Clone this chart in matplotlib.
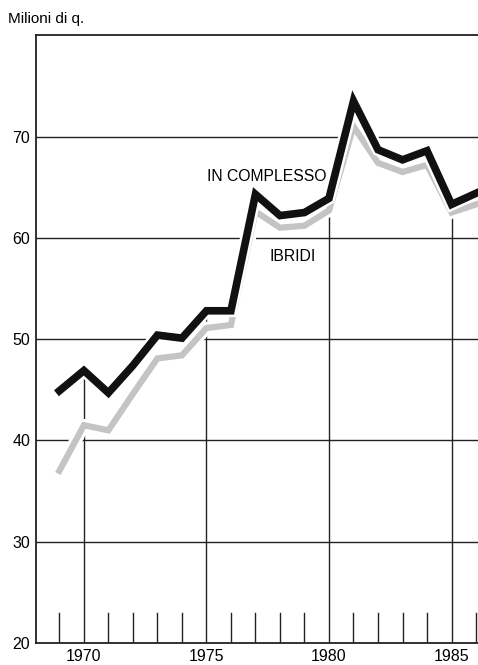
import numpy as np
import matplotlib
matplotlib.use("Agg")
import matplotlib.pyplot as plt
import matplotlib.patheffects as pe

plt.rcParams['font.family'] = ['Liberation Sans', 'DejaVu Sans']

anni = [1969, 1970, 1971, 1972, 1973, 1974, 1975, 1976, 1977,
        1978, 1979, 1980, 1981, 1982, 1983, 1984, 1985, 1986]
complesso = [44.9, 46.9, 44.7, 47.4, 50.4, 50.1, 52.8, 52.8, 64.3,
             62.2, 62.5, 63.9, 73.5, 68.7, 67.7, 68.6, 63.3, 64.4]
ibridi = [37.0, 41.5, 41.0, 44.6, 48.1, 48.4, 51.1, 51.4, 62.6,
          61.0, 61.2, 62.7, 71.0, 67.4, 66.5, 67.2, 62.5, 63.3]
y_ticks = [20, 30, 40, 50, 60, 70]
x_labels = [1970, 1975, 1980, 1985]

fig = plt.figure(figsize=(4.78, 6.65), dpi=100)
ax = fig.add_axes([0.075, 0.033, 0.925, 0.914])
ax.set_xlim(1968.04, 1986.08)
ax.set_ylim(20, 80)

# griglia orizzontale
for v in y_ticks[1:]:
    ax.axhline(v, color='#222222', lw=1.0, zorder=1)

# linee verticali fino alla curva
for a, c in zip(anni, complesso):
    if a in x_labels:
        ax.plot([a, a], [20, c], color='#222222', lw=1.0, zorder=1)
    else:
        ax.plot([a, a], [20, 23], color='#222222', lw=1.0, zorder=1)

halo = [pe.Stroke(linewidth=9, foreground='white'), pe.Normal()]
ax.plot(anni, ibridi, color='#c4c4c4', lw=4.5, solid_joinstyle='miter',
        path_effects=halo, zorder=3)
ax.plot(anni, complesso, color='#111111', lw=5.5, solid_joinstyle='miter',
        path_effects=halo, zorder=4)

ax.text(1977.45, 66.1, 'IN COMPLESSO', fontsize=11.3, ha='center', va='center', zorder=5)
ax.text(1978.5, 58.2, 'IBRIDI', fontsize=11.3, ha='center', va='center', zorder=5)

ax.spines['right'].set_visible(False)
for s in ['left', 'top', 'bottom']:
    ax.spines[s].set_linewidth(1.3)
    ax.spines[s].set_color('#222222')

ax.set_yticks(y_ticks)
ax.set_yticklabels([str(v) for v in y_ticks])
ax.set_xticks(x_labels)
ax.set_xticklabels([str(v) for v in x_labels])
ax.tick_params(axis='both', length=0, labelsize=11.5, pad=4)

fig.text(0.017, 0.972, 'Milioni di q.', fontsize=11, ha='left', va='center')

fig.savefig('out.png', dpi=100)
